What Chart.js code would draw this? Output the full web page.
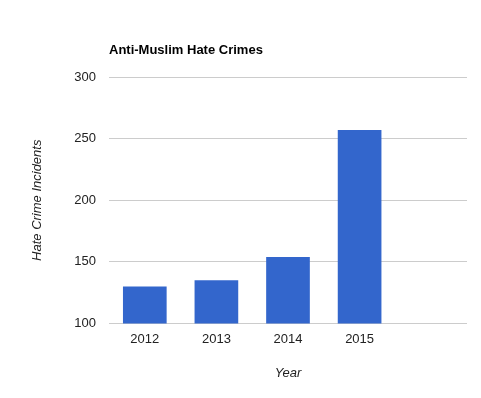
<!DOCTYPE html>
<html>
<head>
<meta charset="utf-8">
<script src="https://cdn.jsdelivr.net/npm/chart.js@4"></script>
<style>
html,body{margin:0;padding:0;background:#fff;}
#wrap{position:relative;width:481px;height:398px;}
</style>
</head>
<body>
<div id="wrap"><canvas id="c" width="481" height="398"></canvas></div>
<script>
const categories = ['2012', '2013', '2014', '2015', ''];
const incidents = [130, 135, 154, 257, null];
const yTicks = [100, 150, 200, 250, 300];
const chartTitle = 'Anti-Muslim Hate Crimes';
const xTitle = 'Year';
const yTitle = 'Hate Crime Incidents';

const FONT = "'Liberation Sans', Arial, sans-serif";

const titlePlugin = {
  id: 'leftTitle',
  afterDraw(chart) {
    const ctx = chart.ctx;
    ctx.save();
    ctx.font = 'bold 13px ' + FONT;
    ctx.fillStyle = '#000';
    ctx.textAlign = 'left';
    ctx.textBaseline = 'middle';
    ctx.fillText(chartTitle, chart.chartArea.left, 50);
    ctx.restore();
  }
};

new Chart(document.getElementById('c'), {
  type: 'bar',
  data: {
    labels: categories,
    datasets: [{
      label: 'Incidents',
      data: incidents,
      backgroundColor: '#3366cc',
      borderWidth: 0,
      barPercentage: 0.61,
      categoryPercentage: 1.0
    }]
  },
  plugins: [titlePlugin],
  options: {
    responsive: false,
    animation: false,
    devicePixelRatio: 1,
    layout: { padding: { left: 26, right: 14, top: 77, bottom: 13 } },
    plugins: {
      legend: { display: false },
      tooltip: { enabled: false },
      title: { display: false }
    },
    scales: {
      x: {
        grid: { display: false, drawTicks: false },
        border: { display: false },
        ticks: { color: '#222', font: { family: FONT, size: 13 }, padding: 8, maxRotation: 0 },
        title: { display: true, text: xTitle, color: '#222', font: { family: FONT, size: 13, style: 'italic' }, padding: { top: 4, bottom: 4 } },
        afterFit(s) { s.height = 61.5; }
      },
      y: {
        min: 100,
        max: 300,
        afterBuildTicks(s) { s.ticks = yTicks.map(v => ({ value: v })); },
        grid: { color: '#cccccc', drawTicks: false, lineWidth: 1 },
        border: { display: false },
        ticks: { color: '#222', font: { family: FONT, size: 13 }, padding: 13 },
        title: { display: true, text: yTitle, color: '#222', font: { family: FONT, size: 13, style: 'italic' }, padding: { top: 4, bottom: 4 } },
        afterFit(s) { s.width = 83; }
      }
    }
  }
});
</script>
</body>
</html>
